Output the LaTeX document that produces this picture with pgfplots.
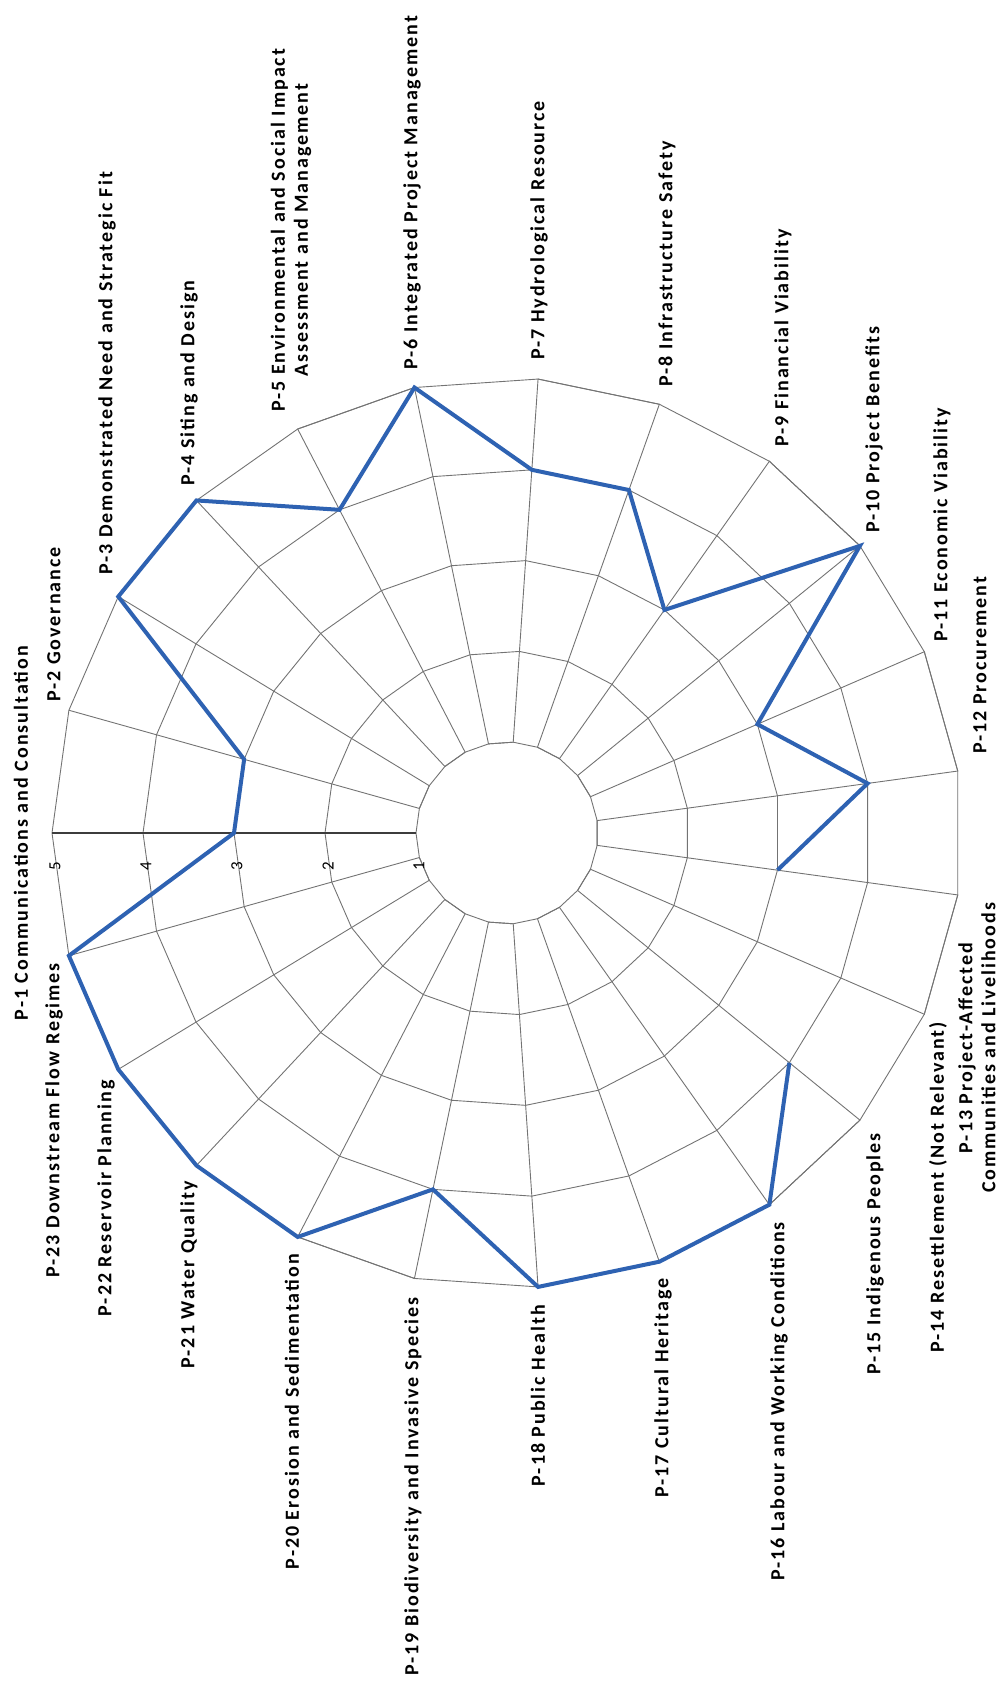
\documentclass[border=0pt]{standalone}
\usepackage{fontspec}
\setmainfont{Carlito}
\newfontfamily\labfont[LetterSpace=10]{Carlito}
\usepackage{pgfplots}
\usepackage{pgfplotstable}
\pgfplotsset{compat=1.18}
\definecolor{serblue}{RGB}{46,98,178}
\definecolor{gridgray}{RGB}{115,115,115}
\definecolor{axisgray}{RGB}{60,60,60}

% spoke angles (image orientation) and ring radii
\pgfplotstableread{
ang r1 r2 r3 r4 r5
180 1 2 3 4 5
164.348 1 2 3 4 5
148.696 1 2 3 4 5
133.043 1 2 3 4 5
117.391 1 2 3 4 5
101.739 1 2 3 4 5
86.087 1 2 3 4 5
70.435 1 2 3 4 5
54.783 1 2 3 4 5
39.130 1 2 3 4 5
23.478 1 2 3 4 5
7.826 1 2 3 4 5
-7.826 1 2 3 4 5
-23.478 1 2 3 4 5
-39.130 1 2 3 4 5
-54.783 1 2 3 4 5
-70.435 1 2 3 4 5
-86.087 1 2 3 4 5
-101.739 1 2 3 4 5
-117.391 1 2 3 4 5
-133.043 1 2 3 4 5
-148.696 1 2 3 4 5
-164.348 1 2 3 4 5
180 1 2 3 4 5
}\rings

% spokes drawn as one zig-zag path between ring 1 and ring 5
\pgfplotstableread{
ang r
164.348 5
164.348 1
148.696 1
148.696 5
133.043 5
133.043 1
117.391 1
117.391 5
101.739 5
101.739 1
86.087 1
86.087 5
70.435 5
70.435 1
54.783 1
54.783 5
39.130 5
39.130 1
23.478 1
23.478 5
7.826 5
7.826 1
-7.826 1
-7.826 5
-23.478 5
-23.478 1
-39.130 1
-39.130 5
-54.783 5
-54.783 1
-70.435 1
-70.435 5
-86.087 5
-86.087 1
-101.739 1
-101.739 5
-117.391 5
-117.391 1
-133.043 1
-133.043 5
-148.696 5
-148.696 1
-164.348 1
-164.348 5
}\spokes

% scores (P-14 not relevant: gap), listed from P-15 round to P-13
\pgfplotstableread{
ang val
-39.130 4
-54.783 5
-70.435 5
-86.087 5
-101.739 4
-117.391 5
-133.043 5
-148.696 5
-164.348 5
180 3
164.348 3
148.696 5
133.043 5
117.391 4
101.739 5
86.087 4
70.435 4
54.783 3
39.130 5
23.478 3
7.826 4
-7.826 3
}\scores

\newcommand{\lab}{\labfont\bfseries\fontsize{20}{23}\selectfont}

\begin{document}
\begin{tikzpicture}[x=1pt,y=1pt]
\useasboundingbox (0,0) rectangle (1006,1686);
\begin{axis}[
  hide axis,
  x=91pt, y=91pt,
  xmin=-5.6, xmax=5.6, ymin=-5.6, ymax=5.6,
  clip=false,
  anchor=origin, at={(507pt,853pt)},
  data cs=polar,
]
\addplot[gridgray, line width=0.9pt, no marks] table[x=ang, y=r1] {\rings};
\addplot[gridgray, line width=0.9pt, no marks] table[x=ang, y=r2] {\rings};
\addplot[gridgray, line width=0.9pt, no marks] table[x=ang, y=r3] {\rings};
\addplot[gridgray, line width=0.9pt, no marks] table[x=ang, y=r4] {\rings};
\addplot[gridgray, line width=0.9pt, no marks] table[x=ang, y=r5] {\rings};
\addplot[gridgray, line width=0.9pt, no marks] table[x=ang, y=r] {\spokes};
\addplot[axisgray, line width=1.1pt, no marks] coordinates {(180,1) (180,5)};
\addplot[serblue, line width=4pt, no marks, line join=miter] table[x=ang, y=val] {\scores};
\end{axis}

% radial tick labels
\begin{scope}[every node/.style={rotate=90, inner sep=0pt, font=\fontsize{17}{19}\selectfont}]
\node at (419,820) {1};
\node at (328,820) {2};
\node at (237,820) {3};
\node at (146,820) {4};
\node at (55,820) {5};
\end{scope}

% category labels (image y measured from top: Y = 1686 - y)
\begin{scope}[every node/.style={rotate=90, inner sep=0pt, font=\lab}]
\node[anchor=center] at (21,853) {P-1 Communications and Consultation};
\node[anchor=west] at (54,984) {P-2 Governance};
\node[anchor=west] at (107,1111) {P-3 Demonstrated Need and Strategic Fit};
\node[anchor=west] at (189,1200) {P-4 Siting and Design};
\node[anchor=west, align=center] at (291,1274) {P-5 Environmental and Social Impact\\Assessment and Management};
\node[anchor=west] at (412,1316) {P-6 Integrated Project Management};
\node[anchor=west] at (539,1326) {P-7 Hydrological Resource};
\node[anchor=west] at (667,1299) {P-8 Infrastructure Safety};
\node[anchor=west] at (783,1239) {P-9 Financial Viability};
\node[anchor=west] at (874,1153) {P-10 Project Benefits};
\node[anchor=west] at (942,1044) {P-11 Economic Viability};
\node[anchor=west] at (980,932) {P-12 Procurement};
\node[anchor=center, align=center] at (977,638) {P-13 Project-Affected\\Communities and Livelihoods};
\node[anchor=east] at (938,664) {P-14 Resettlement (Not Relevant)};
\node[anchor=east] at (875,553) {P-15 Indigenous Peoples};
\node[anchor=east] at (779,464) {P-16 Labour and Working Conditions};
\node[anchor=east] at (663,408) {P-17 Cultural Heritage};
\node[anchor=east] at (538,381) {P-18 Public Health};
\node[anchor=east] at (413,389) {P-19 Biodiversity and Invasive Species};
\node[anchor=east] at (292,432) {P-20 Erosion and Sedimentation};
\node[anchor=east] at (189,505) {P-21 Water Quality};
\node[anchor=east] at (106,606) {P-22 Reservoir Planning};
\node[anchor=east] at (54,723) {P-23 Downstream Flow Regimes};
\end{scope}
\end{tikzpicture}
\end{document}
